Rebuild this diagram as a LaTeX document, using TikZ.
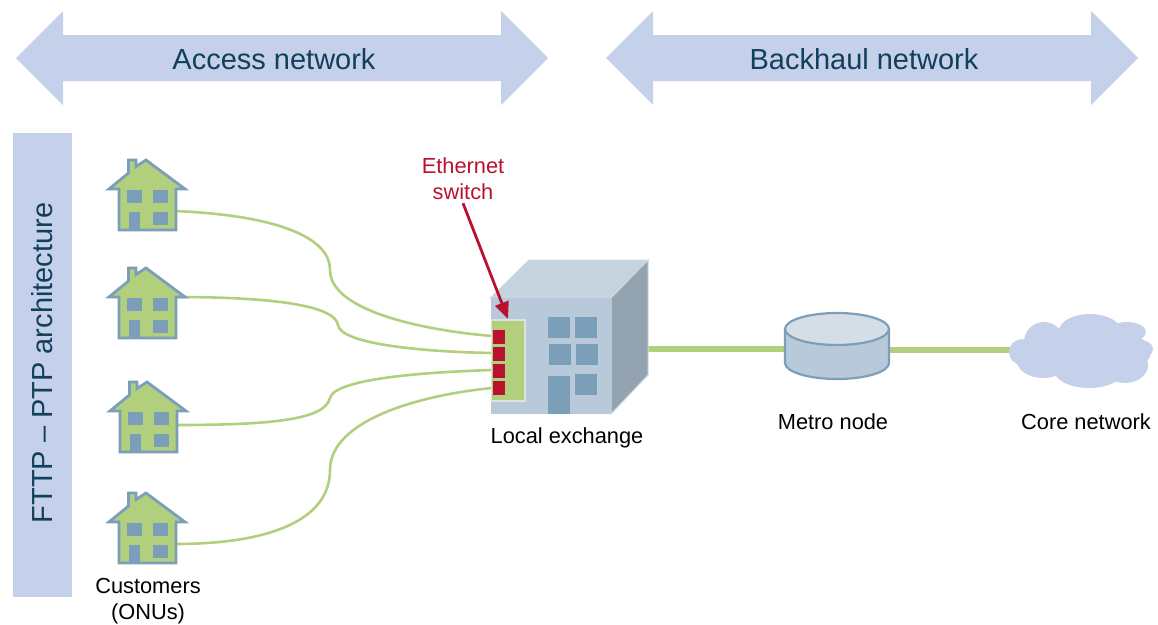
\documentclass[tikz,border=0pt]{standalone}
\usepackage{fontspec}
\setmainfont{Liberation Sans}
\usetikzlibrary{arrows.meta}
\definecolor{bandblue}{HTML}{C5D1EA}
\definecolor{darktext}{HTML}{123F5C}
\definecolor{housegreen}{HTML}{B2CF7E}
\definecolor{steelblue}{HTML}{7C9FB9}
\definecolor{frontblue}{HTML}{B8CAD9}
\definecolor{topblue}{HTML}{C5D3DF}
\definecolor{sideblue}{HTML}{93A3AF}
\definecolor{discoTop}{HTML}{D5DEE7}
\definecolor{redsw}{HTML}{B9122F}
\tikzset{
  x=1pt,y=-1pt,
  bigtext/.style={text=darktext,font=\fontsize{29}{34}\selectfont,inner sep=0pt},
  smalllabel/.style={text=black,font=\fontsize{21.8}{26}\selectfont,align=center,inner sep=0pt},
  fibre/.style={draw=housegreen,line width=2.6pt},
  trunk/.style={draw=housegreen,line width=6.5pt},
  window/.style={fill=steelblue,draw=none},
  port/.style={fill=redsw,draw=none},
  house/.pic={
    \fill[housegreen,draw=steelblue,line width=2.8pt,line join=miter]
      (-37,29)--(-17.5,13)--(-17.5,0)--(-10,0)--(-10,6.5)--(0,0)--(39,29)--(30,29)--(30,70)--(-27,70)--(-27,29)--cycle;
    \fill[window] (-19,30) rectangle (-4,43);
    \fill[window] (7,30) rectangle (22,43);
    \fill[window] (7,52) rectangle (22,65);
    \fill[window] (-17,52) rectangle (-6,69);
  }
}
\begin{document}
\begin{tikzpicture}
\useasboundingbox (0,0) rectangle (1158,624);
% band arrows
\fill[bandblue] (16,58)--(63,11)--(63,35)--(501,35)--(501,11)--(548,58)--(501,105)--(501,81)--(63,81)--(63,105)--cycle;
\fill[bandblue] (606,58)--(653,11)--(653,35)--(1091,35)--(1091,11)--(1138,58)--(1091,105)--(1091,81)--(653,81)--(653,105)--cycle;
\node[bigtext] (access) at (274,59) {Access network};
\node[bigtext] (backhaul) at (864,59) {Backhaul network};
\fill[bandblue] (13,133) rectangle (72,597);
\node[bigtext,rotate=90] (arch) at (42,363) {FTTP – PTP architecture};
% named ends
\coordinate (h1) at (175,211);
\coordinate (h2) at (175,297);
\coordinate (h3) at (176,425);
\coordinate (h4) at (175,544);
\coordinate (s1) at (492,336);
\coordinate (s2) at (492,353);
\coordinate (s3) at (492,370);
\coordinate (s4) at (492,388);
% fibres
\draw[fibre] (h1) .. controls (270,215) and (330,235) .. (330,270) .. controls (330,310) and (420,330) .. (s1);
\draw[fibre] (h2) .. controls (270,297) and (335,305) .. (338,325) .. controls (341,345) and (430,352) .. (s2);
\draw[fibre] (h3) .. controls (270,425) and (325,420) .. (330,398) .. controls (335,378) and (430,372) .. (s3);
\draw[fibre] (h4) .. controls (270,544) and (330,520) .. (330,470) .. controls (330,420) and (420,395) .. (s4);
% houses
\pic at (146,160) {house};
\pic at (146,268) {house};
\pic at (147,382) {house};
\pic at (146,493) {house};
% trunks
\coordinate (bR) at (648,349);
\coordinate (mL) at (786,349);
\coordinate (mR) at (889,350);
\coordinate (cL) at (1014,350);
\draw[trunk] (bR)--(mL);
\draw[trunk] (mR)--(cL);
% building
\fill[topblue,draw=frontblue!70!white,line width=1pt] (490.5,298)--(529,260)--(648,260)--(611,298)--cycle;
\fill[sideblue,draw=frontblue!70!white,line width=1pt] (611,298)--(648,260)--(648,375)--(611,414)--cycle;
\fill[frontblue] (490.5,298) rectangle (611,414);
\fill[window] (548,317) rectangle (570,338);
\fill[window] (575,317) rectangle (597,338);
\fill[window] (549,344) rectangle (571,365);
\fill[window] (576,344) rectangle (598,365);
\fill[window] (575,374) rectangle (597,395);
\fill[window] (548,376) rectangle (570,414);
\fill[housegreen,draw=black!12,line width=1.5pt] (491.5,320) rectangle (525,401);
\fill[port] (492.5,330) rectangle (505,344);
\fill[port] (492.5,347) rectangle (505,361);
\fill[port] (492.5,364) rectangle (505,378);
\fill[port] (492.5,381) rectangle (505,395);
% metro node
\fill[frontblue,draw=steelblue,line width=2.2pt] (785,329) -- (785,363) arc[start angle=180,end angle=360,x radius=52,y radius=-16] -- (889,329) -- cycle;
\fill[discoTop,draw=steelblue,line width=2.2pt] (837,329) ellipse [x radius=52,y radius=16];
% cloud
\fill[bandblue]
 (1090,331) ellipse [x radius=31,y radius=17]
 (1044,342) ellipse [x radius=20,y radius=20]
 (1127,332) ellipse [x radius=19,y radius=10]
 (1022,352) ellipse [x radius=13,y radius=13]
 (1141,349) ellipse [x radius=12,y radius=9]
 (1043,361) ellipse [x radius=26,y radius=17]
 (1089,370) ellipse [x radius=35,y radius=18]
 (1125,365) ellipse [x radius=23,y radius=18]
 (1085,352) ellipse [x radius=66,y radius=26];
% labels
\node[smalllabel] (local) at (567,438) {Local exchange};
\node[smalllabel] (metro) at (833,422) {Metro node};
\node[smalllabel] (core) at (1086,422) {Core network};
\node[smalllabel] (cust) at (148,601) {Customers\\(ONUs)};
\node[smalllabel,text=redsw] (eth) at (463,179) {Ethernet\\switch};
\coordinate (swtop) at (508,319);
\draw[redsw,line width=2.8pt,-{Triangle[length=17pt,width=14pt]}] (eth.south) ++(0,3) -- (swtop);
\end{tikzpicture}
\end{document}
